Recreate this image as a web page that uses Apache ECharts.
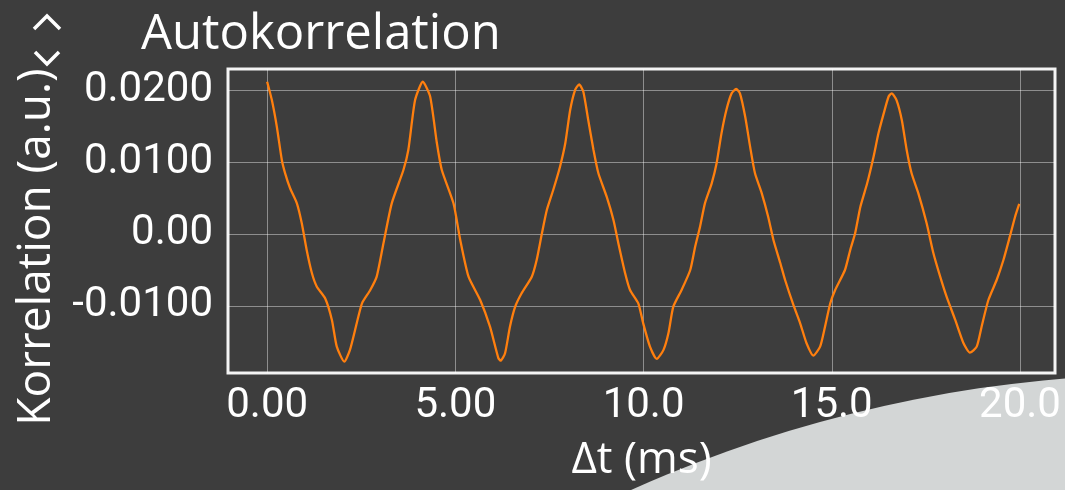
<!DOCTYPE html>
<html>
<head>
<meta charset="utf-8">
<script src="https://cdn.jsdelivr.net/npm/echarts@6/dist/echarts.min.js"></script>
<style>
html,body{margin:0;padding:0;background:#3d3d3d;}
#chart{width:1065px;height:490px;}
</style>
</head>
<body>
<div id="chart"></div>
<script>
// Data
const delayMs = [0.00,0.125,0.257,0.39,0.478,0.61,0.79,0.92,1.05,1.19,1.32,1.54,1.72,1.85,2.05,2.2,2.38,2.52,2.74,2.91,3.09,3.31,3.62,3.75,3.93,4.135,4.33,4.51,4.64,4.95,5.13,5.35,5.66,5.92,6.14,6.2,6.32,6.45,6.59,6.76,7.03,7.16,7.30,7.43,7.6,7.78,7.92,8.05,8.18,8.29,8.40,8.53,8.67,8.8,9.02,9.2,9.33,9.51,9.64,9.86,9.99,10.17,10.35,10.53,10.66,10.79,11.01,11.24,11.37,11.5,11.63,11.81,11.94,12.07,12.20,12.34,12.46,12.56,12.7,12.83,12.96,13.14,13.31,13.45,13.63,13.76,13.98,14.16,14.33,14.51,14.69,14.82,14.96,15.09,15.35,15.49,15.62,15.76,15.94,16.11,16.24,16.38,16.51,16.59,16.72,16.86,16.99,17.12,17.3,17.52,17.7,17.88,18.05,18.28,18.5,18.67,18.85,18.98,19.16,19.38,19.56,19.73,19.87,19.98];
const correlation = [0.02115,0.0186,0.0149,0.01028,0.00843,0.00635,0.00426,0.00149,-0.00222,-0.00546,-0.00732,-0.00893,-0.01194,-0.01565,-0.01774,-0.0161,-0.0124,-0.00963,-0.00778,-0.00593,-0.00129,0.00426,0.00889,0.01167,0.0186,0.02115,0.0191,0.0126,0.00889,0.00426,-0.00083,-0.00593,-0.00917,-0.01288,-0.0172,-0.0176,-0.01657,-0.01288,-0.0101,-0.00824,-0.00593,-0.00361,0.0001,0.00333,0.00611,0.00935,0.0126,0.01722,0.02,0.02079,0.01976,0.01583,0.01167,0.00843,0.00518,0.00194,-0.00129,-0.00546,-0.00778,-0.00963,-0.0124,-0.01565,-0.01736,-0.0161,-0.0138,-0.0101,-0.00778,-0.005,-0.00176,0.00102,0.00426,0.00704,0.00982,0.01398,0.01722,0.01954,0.02014,0.01954,0.01629,0.01213,0.00843,0.00565,0.0024,-0.00083,-0.0040,-0.00639,-0.00985,-0.0124,-0.01518,-0.0169,-0.01565,-0.01288,-0.00963,-0.00778,-0.005,-0.00222,0.0001,0.00379,0.00704,0.01074,0.01398,0.01676,0.0191,0.01954,0.0186,0.01583,0.01167,0.00843,0.00565,0.00149,-0.00268,-0.00593,-0.00871,-0.01194,-0.01518,-0.01649,-0.01565,-0.01288,-0.00917,-0.00639,-0.00361,-0.00037,0.0024,0.00417];
const xTickValues = [0, 5, 10, 15, 20];
const xTickLabels = ['0.00', '5.00', '10.0', '15.0', '20.0'];
const yTickValues = [-0.01, 0, 0.01, 0.02];
const yTickLabels = ['-0.0100', '0.00', '0.0100', '0.0200'];
const titleText = 'Autokorrelation';
const xName = 'Δt (ms)';
const yName = 'Korrelation (a.u.)';

function labelFor(values, labels) {
  return function (v) {
    const i = values.findIndex(t => Math.abs(t - v) < 1e-9);
    return i >= 0 ? labels[i] : '';
  };
}

const chart = echarts.init(document.getElementById('chart'), null, {renderer: 'canvas'});
const option = {
  backgroundColor: '#3d3d3d',
  animation: false,
  title: {
    text: titleText,
    left: 136,
    top: 6,
    textStyle: {color: '#ffffff', fontFamily: 'Open Sans', fontWeight: 'normal', fontSize: 49}
  },
  grid: {
    left: 228, right: 10, top: 69, bottom: 117,
    show: true,
    borderColor: '#f4f4f4',
    borderWidth: 3,
    backgroundColor: 'transparent',
    containLabel: false,
    outerBoundsMode: 'none'
  },
  graphic: [
    {type: 'circle', z: -10, silent: true, shape: {cx: 1173, cy: 1698, r: 1324}, style: {fill: '#d3d6d6'}},
    {type: 'polyline', z: 10, silent: true, shape: {points: [[34, 29], [47, 16], [60, 29]]}, style: {stroke: '#ffffff', lineWidth: 3.5, fill: null}},
    {type: 'polyline', z: 10, silent: true, shape: {points: [[35, 52], [47, 64], [59, 52]]}, style: {stroke: '#ffffff', lineWidth: 3.5, fill: null}}
  ],
  xAxis: {
    type: 'value',
    min: -1.04,
    max: 20.93,
    name: xName,
    nameLocation: 'middle',
    nameGap: 65,
    nameTextStyle: {color: '#ffffff', fontFamily: 'Open Sans', fontSize: 44},
    axisLine: {show: false},
    axisTick: {show: false, customValues: xTickValues},
    axisLabel: {
      customValues: xTickValues,
      formatter: labelFor(xTickValues, xTickLabels),
      color: '#ffffff', fontFamily: 'Roboto', fontSize: 42, margin: 12
    },
    splitLine: {show: true, lineStyle: {color: 'rgba(255,255,255,0.42)', width: 1}}
  },
  yAxis: {
    type: 'value',
    min: -0.01931,
    max: 0.02292,
    name: yName,
    nameLocation: 'middle',
    nameGap: 168,
    nameTextStyle: {color: '#ffffff', fontFamily: 'Open Sans', fontSize: 46, padding: [0, 52, 0, 0]},
    axisLine: {show: false},
    axisTick: {show: false, customValues: yTickValues},
    axisLabel: {
      customValues: yTickValues,
      formatter: labelFor(yTickValues, yTickLabels),
      color: '#ffffff', fontFamily: 'Roboto', fontSize: 42, margin: 15
    },
    splitLine: {show: true, lineStyle: {color: 'rgba(255,255,255,0.42)', width: 1}}
  },
  series: [{
    type: 'line',
    data: delayMs.map((t, i) => [t, correlation[i]]),
    showSymbol: false,
    smooth: 0.2,
    clip: true,
    lineStyle: {color: '#ff7f0e', width: 2.3},
    itemStyle: {color: '#ff7f0e'}
  }]
};
chart.setOption(option);
</script>
</body>
</html>
